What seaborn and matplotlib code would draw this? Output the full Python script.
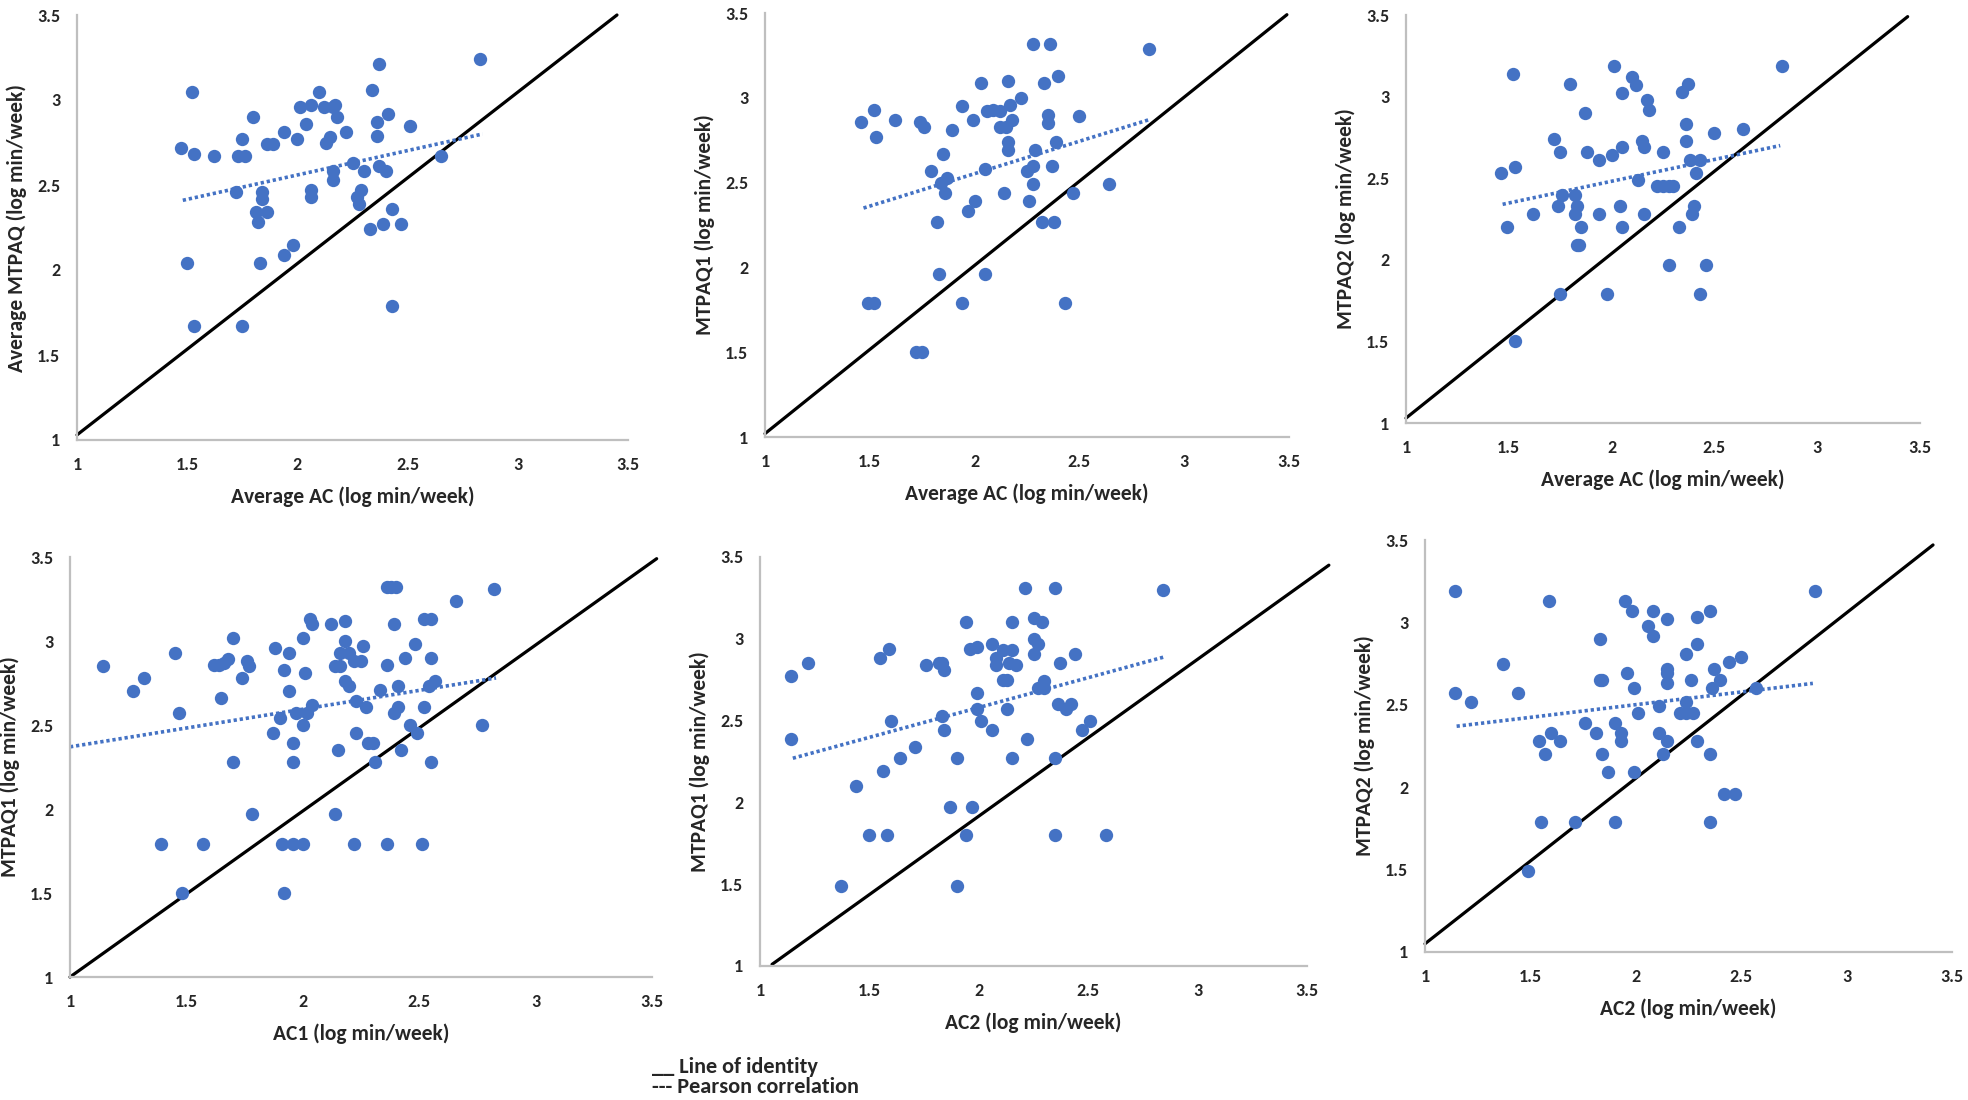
import numpy as np
import seaborn as sns
import matplotlib.pyplot as plt
from matplotlib.ticker import FormatStrFormatter

BLUE = "#4472C4"
W, H = 1968, 1100

# panel 1: Average AC vs Average MTPAQ
p1_x = [1.47, 1.52, 1.53, 1.62, 1.73, 1.76, 1.75, 1.72, 1.80, 1.81,
        1.82, 1.84, 1.84, 1.86, 1.83, 1.50, 1.53, 1.75, 1.86, 1.89,
        1.94, 2.00, 1.94, 1.98, 2.01, 2.06, 2.04, 2.06, 2.06, 2.10,
        2.12, 2.16, 2.17, 2.18, 2.13, 2.15, 2.22, 2.16, 2.16, 2.25,
        2.30, 2.27, 2.28, 2.29, 2.34, 2.37, 2.36, 2.36, 2.41, 2.37,
        2.40, 2.33, 2.39, 2.43, 2.47, 2.43, 2.51, 2.65, 2.83]
p1_y = [2.72, 3.05, 2.68, 2.67, 2.67, 2.67, 2.77, 2.46, 2.90, 2.34,
        2.28, 2.46, 2.42, 2.34, 2.04, 2.04, 1.67, 1.67, 2.74, 2.74,
        2.81, 2.77, 2.09, 2.15, 2.96, 2.97, 2.86, 2.47, 2.43, 3.05,
        2.96, 2.96, 2.97, 2.90, 2.75, 2.78, 2.81, 2.58, 2.53, 2.63,
        2.58, 2.43, 2.39, 2.47, 3.06, 3.21, 2.87, 2.79, 2.92, 2.61,
        2.58, 2.24, 2.27, 2.36, 2.27, 1.79, 2.85, 2.67, 3.24]

# panel 2: Average AC vs MTPAQ1
p2_x = [1.46, 1.52, 1.53, 1.49, 1.52, 1.62, 1.74, 1.76, 1.72, 1.75,
        1.79, 1.82, 1.83, 1.85, 1.84, 1.86, 1.87, 1.89, 1.94, 1.94,
        1.97, 1.99, 2.00, 2.03, 2.05, 2.05, 2.06, 2.09, 2.12, 2.12,
        2.15, 2.14, 2.16, 2.16, 2.16, 2.17, 2.18, 2.22, 2.25, 2.26,
        2.28, 2.28, 2.28, 2.29, 2.32, 2.33, 2.35, 2.35, 2.36, 2.37,
        2.38, 2.39, 2.40, 2.43, 2.47, 2.50, 2.64, 2.83]
p2_y = [2.86, 2.93, 2.77, 1.79, 1.79, 2.87, 2.86, 2.83, 1.50, 1.50,
        2.57, 2.27, 1.96, 2.67, 2.50, 2.44, 2.53, 2.81, 2.95, 1.79,
        2.33, 2.87, 2.39, 3.09, 2.58, 1.96, 2.92, 2.93, 2.92, 2.83,
        2.83, 2.44, 3.10, 2.74, 2.69, 2.96, 2.87, 3.00, 2.57, 2.39,
        3.32, 2.60, 2.49, 2.69, 2.27, 3.09, 2.90, 2.85, 3.32, 2.60,
        2.27, 2.74, 3.13, 1.79, 2.44, 2.89, 2.49, 3.29]

# panel 3: Average AC vs MTPAQ2
p3_x = [1.46, 1.49, 1.52, 1.53, 1.53, 1.62, 1.72, 1.74, 1.75, 1.76,
        1.75, 1.80, 1.82, 1.82, 1.83, 1.83, 1.84, 1.85, 1.87, 1.88,
        1.94, 1.94, 1.98, 2.00, 2.01, 2.04, 2.05, 2.05, 2.05, 2.10,
        2.12, 2.13, 2.15, 2.16, 2.16, 2.17, 2.18, 2.25, 2.22, 2.25,
        2.28, 2.30, 2.28, 2.33, 2.34, 2.36, 2.36, 2.37, 2.38, 2.41,
        2.39, 2.40, 2.43, 2.43, 2.46, 2.50, 2.64, 2.83]
p3_y = [2.53, 2.20, 3.14, 2.57, 1.50, 2.28, 2.74, 2.33, 2.66, 2.40,
        1.79, 3.08, 2.40, 2.28, 2.33, 2.09, 2.09, 2.20, 2.90, 2.66,
        2.61, 2.28, 1.79, 2.64, 3.19, 2.33, 3.02, 2.69, 2.20, 3.12,
        3.07, 2.49, 2.73, 2.69, 2.28, 2.98, 2.92, 2.66, 2.45, 2.45,
        2.45, 2.45, 1.97, 2.20, 3.03, 2.73, 2.83, 3.08, 2.61, 2.53,
        2.28, 2.33, 2.61, 1.79, 1.97, 2.78, 2.80, 3.19]

# panel 4: AC1 vs MTPAQ1
p4_x = [1.14, 1.27, 1.32, 1.39, 1.45, 1.47, 1.48, 1.57, 1.62, 1.64,
        1.66, 1.68, 1.65, 1.70, 1.70, 1.74, 1.76, 1.77, 1.78, 1.87,
        1.88, 1.90, 1.91, 1.92, 1.92, 1.94, 1.94, 1.96, 1.96, 1.96,
        2.00, 1.97, 2.00, 2.00, 2.01, 2.02, 2.03, 2.04, 2.04, 2.12,
        2.14, 2.16, 2.14, 2.15, 2.16, 2.18, 2.18, 2.18, 2.20, 2.20,
        2.22, 2.22, 2.23, 2.23, 2.25, 2.26, 2.27, 2.28, 2.30, 2.31,
        2.33, 2.36, 2.36, 2.36, 2.38, 2.40, 2.39, 2.39, 2.41, 2.41,
        2.42, 2.44, 2.46, 2.48, 2.49, 2.51, 2.52, 2.52, 2.55, 2.54,
        2.55, 2.55, 2.57, 2.66, 2.77, 2.82]
p4_y = [2.85, 2.70, 2.78, 1.79, 2.93, 2.57, 1.50, 1.79, 2.86, 2.86,
        2.87, 2.89, 2.66, 3.02, 2.28, 2.78, 2.88, 2.85, 1.97, 2.45,
        2.96, 2.54, 1.79, 2.83, 1.50, 2.70, 2.93, 2.28, 2.39, 1.79,
        1.79, 2.57, 2.50, 3.02, 2.81, 2.57, 3.13, 3.10, 2.62, 3.10,
        2.85, 2.85, 1.97, 2.35, 2.93, 3.12, 3.00, 2.76, 2.73, 2.93,
        2.88, 1.79, 2.64, 2.45, 2.88, 2.97, 2.61, 2.39, 2.39, 2.28,
        2.71, 2.86, 1.79, 3.32, 3.32, 3.32, 3.10, 2.57, 2.73, 2.61,
        2.35, 2.90, 2.50, 2.98, 2.45, 1.79, 2.61, 3.13, 3.13, 2.73,
        2.90, 2.28, 2.76, 3.24, 2.50, 3.31]

# panel 5: AC2 vs MTPAQ1
p5_x = [1.14, 1.14, 1.22, 1.37, 1.44, 1.50, 1.55, 1.56, 1.58, 1.59,
        1.60, 1.64, 1.71, 1.76, 1.82, 1.83, 1.84, 1.83, 1.84, 1.87,
        1.90, 1.90, 1.94, 1.94, 1.96, 1.97, 1.99, 1.99, 1.99, 2.01,
        2.06, 2.06, 2.08, 2.08, 2.11, 2.11, 2.13, 2.13, 2.14, 2.15,
        2.15, 2.15, 2.17, 2.21, 2.22, 2.25, 2.25, 2.25, 2.27, 2.27,
        2.29, 2.30, 2.30, 2.35, 2.35, 2.35, 2.36, 2.37, 2.40, 2.42,
        2.44, 2.47, 2.51, 2.58, 2.84]
p5_y = [2.77, 2.39, 2.85, 1.49, 2.10, 1.80, 2.88, 2.19, 1.80, 2.94,
        2.50, 2.27, 2.34, 2.84, 2.85, 2.85, 2.81, 2.53, 2.44, 1.97,
        2.27, 1.49, 3.10, 1.80, 2.94, 1.97, 2.67, 2.95, 2.57, 2.50,
        2.97, 2.44, 2.88, 2.84, 2.93, 2.75, 2.75, 2.57, 2.85, 2.93,
        3.10, 2.27, 2.84, 3.31, 2.39, 3.13, 3.00, 2.91, 2.97, 2.70,
        3.10, 2.74, 2.70, 3.31, 2.27, 1.80, 2.60, 2.85, 2.57, 2.60,
        2.91, 2.44, 2.50, 1.80, 3.30]

# panel 6: AC2 vs MTPAQ2
p6_x = [1.14, 1.14, 1.22, 1.37, 1.44, 1.49, 1.54, 1.55, 1.57, 1.59,
        1.60, 1.64, 1.71, 1.76, 1.81, 1.83, 1.83, 1.84, 1.84, 1.87,
        1.90, 1.90, 1.93, 1.93, 1.95, 1.96, 1.98, 1.99, 1.99, 2.01,
        2.06, 2.08, 2.08, 2.11, 2.11, 2.13, 2.15, 2.15, 2.15, 2.15,
        2.15, 2.21, 2.24, 2.27, 2.24, 2.24, 2.26, 2.29, 2.29, 2.29,
        2.35, 2.35, 2.35, 2.36, 2.37, 2.40, 2.42, 2.47, 2.44, 2.50,
        2.57, 2.85]
p6_y = [3.19, 2.57, 2.52, 2.75, 2.57, 1.49, 2.28, 1.79, 2.20, 3.13,
        2.33, 2.28, 1.79, 2.39, 2.33, 2.90, 2.65, 2.65, 2.20, 2.09,
        2.39, 1.79, 2.33, 2.28, 3.13, 2.69, 3.07, 2.60, 2.09, 2.45,
        2.98, 3.07, 2.92, 2.33, 2.49, 2.20, 3.02, 2.72, 2.69, 2.63,
        2.28, 2.45, 2.45, 2.45, 2.52, 2.81, 2.65, 3.03, 2.87, 2.28,
        3.07, 2.20, 1.79, 2.60, 2.72, 2.65, 1.96, 1.96, 2.76, 2.79,
        2.60, 3.19]

# line endpoints: (x0, x1), (y0, y1)
identity_x = [(1.0, 3.45), (1.0, 3.49), (1.0, 3.44), (1.0, 3.52), (1.055, 3.60), (1.0, 3.41)]
identity_y = [(1.03, 3.50), (1.02, 3.49), (1.03, 3.49), (1.0, 3.49), (1.01, 3.45), (1.05, 3.47)]
pearson_x = [(1.48, 2.84), (1.47, 2.83), (1.47, 2.82), (1.0, 2.83), (1.15, 2.85), (1.15, 2.84)]
pearson_y = [(2.41, 2.80), (2.35, 2.87), (2.34, 2.70), (2.37, 2.78), (2.27, 2.89), (2.37, 2.63)]

x_labels = ["Average AC (log min/week)", "Average AC (log min/week)", "Average AC (log min/week)",
            "AC1 (log min/week)", "AC2 (log min/week)", "AC2 (log min/week)"]
y_labels = ["Average MTPAQ (log min/week)", "MTPAQ1 (log min/week)", "MTPAQ2 (log min/week)",
            "MTPAQ1 (log min/week)", "MTPAQ1 (log min/week)", "MTPAQ2 (log min/week)"]
ticks = [1, 1.5, 2, 2.5, 3, 3.5]

# axes boxes in pixels: left, top, right, bottom
boxes = [(77, 15, 628, 440), (765, 13, 1289, 437), (1406, 15, 1920, 423),
         (70, 557, 652, 977), (760, 557, 1307, 966), (1425, 540, 1952, 952)]

sns.set_style("white")
plt.rcParams['font.family'] = ['Carlito', 'DejaVu Sans']
plt.rcParams['font.weight'] = 'bold'
plt.rcParams['axes.labelweight'] = 'bold'

fig = plt.figure(figsize=(W / 100, H / 100), dpi=100)

xs = [p1_x, p2_x, p3_x, p4_x, p5_x, p6_x]
ys = [p1_y, p2_y, p3_y, p4_y, p5_y, p6_y]

for i in range(6):
    l, t, r, b = boxes[i]
    ax = fig.add_axes([l / W, 1 - b / H, (r - l) / W, (b - t) / H])

    sns.scatterplot(x=xs[i], y=ys[i], ax=ax, color=BLUE, s=92,
                    linewidth=0, zorder=3)
    ax.plot(identity_x[i], identity_y[i], color='black', lw=2.3,
            clip_on=False, zorder=2)
    ax.plot(pearson_x[i], pearson_y[i], color=BLUE, lw=2.6,
            linestyle=(0, (0.9, 0.8)), zorder=2)

    ax.set_xlim(1, 3.5)
    ax.set_ylim(1, 3.5)
    ax.set_xticks(ticks)
    ax.set_yticks(ticks)
    ax.xaxis.set_major_formatter(FormatStrFormatter('%g'))
    ax.yaxis.set_major_formatter(FormatStrFormatter('%g'))
    ax.tick_params(length=0, labelsize=13, pad=12)

    ax.set_xlabel(x_labels[i], fontsize=15.5, labelpad=10)
    ax.set_ylabel(y_labels[i], fontsize=15.5, labelpad=7)

    sns.despine(ax=ax)
    for side in ['left', 'bottom']:
        ax.spines[side].set_color('#BFBFBF')
        ax.spines[side].set_linewidth(1.6)

fig.text(652 / W, 1 - 1073 / H, "__ Line of identity", fontsize=16,
         va='baseline')
fig.text(652 / W, 1 - 1093 / H, "--- Pearson correlation", fontsize=16,
         va='baseline')

fig.savefig("out.png", dpi=100, facecolor='white')
